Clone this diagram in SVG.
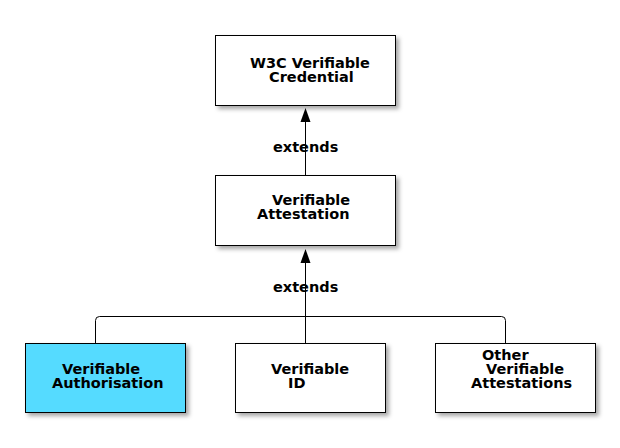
<svg xmlns="http://www.w3.org/2000/svg" width="620" height="448" viewBox="0 0 620 448">
<defs>
<filter id="sh" x="-10%" y="-10%" width="130%" height="140%">
<feDropShadow dx="3" dy="3" stdDeviation="2" flood-color="#000" flood-opacity="0.35"/>
</filter>
<style>
.box{fill:#fff;stroke:#000;stroke-width:1;filter:url(#sh)}
.hl{fill:#55dbff}
text{font-family:"DejaVu Sans",sans-serif;font-weight:bold;font-size:14.5px;fill:#000}
.ln{fill:none;stroke:#000;stroke-width:1}
.ah{fill:#000}
</style>
</defs>
<rect width="620" height="448" fill="#fff"/>
<g id="connectors">
<path class="ln" d="M305.5 175 V120"/>
<polygon class="ah" points="305.5,108 300.5,122 310.5,122"/>
<text x="273" y="152">extends</text>
<path class="ln" d="M305.5 343 V260"/>
<polygon class="ah" points="305.5,249 300.5,263 310.5,263"/>
<text x="273" y="292">extends</text>
<path class="ln" d="M95.5 343 V320.5 Q95.5 316.5 99.5 316.5 H501.5 Q505.5 316.5 505.5 320.5 V343"/>
</g>
<g id="vc">
<rect class="box" x="215.5" y="35.5" width="180" height="70"/>
<text><tspan x="250" y="68">W3C Verifiable</tspan><tspan x="269" y="82">Credential</tspan></text>
</g>
<g id="va">
<rect class="box" x="215.5" y="175.5" width="180" height="70"/>
<text><tspan x="272" y="205">Verifiable</tspan><tspan x="257" y="219">Attestation</tspan></text>
</g>
<g id="vauth">
<rect class="box hl" x="25.5" y="343.5" width="160" height="69"/>
<text><tspan x="62" y="374">Verifiable</tspan><tspan x="52" y="388">Authorisation</tspan></text>
</g>
<g id="vid">
<rect class="box" x="235.5" y="343.5" width="150" height="69"/>
<text><tspan x="271" y="374">Verifiable</tspan><tspan x="288" y="388">ID</tspan></text>
</g>
<g id="other">
<rect class="box" x="435.5" y="343.5" width="160" height="69"/>
<text><tspan x="482" y="360">Other</tspan><tspan x="486" y="374">Verifiable</tspan><tspan x="471" y="388">Attestations</tspan></text>
</g>
</svg>
